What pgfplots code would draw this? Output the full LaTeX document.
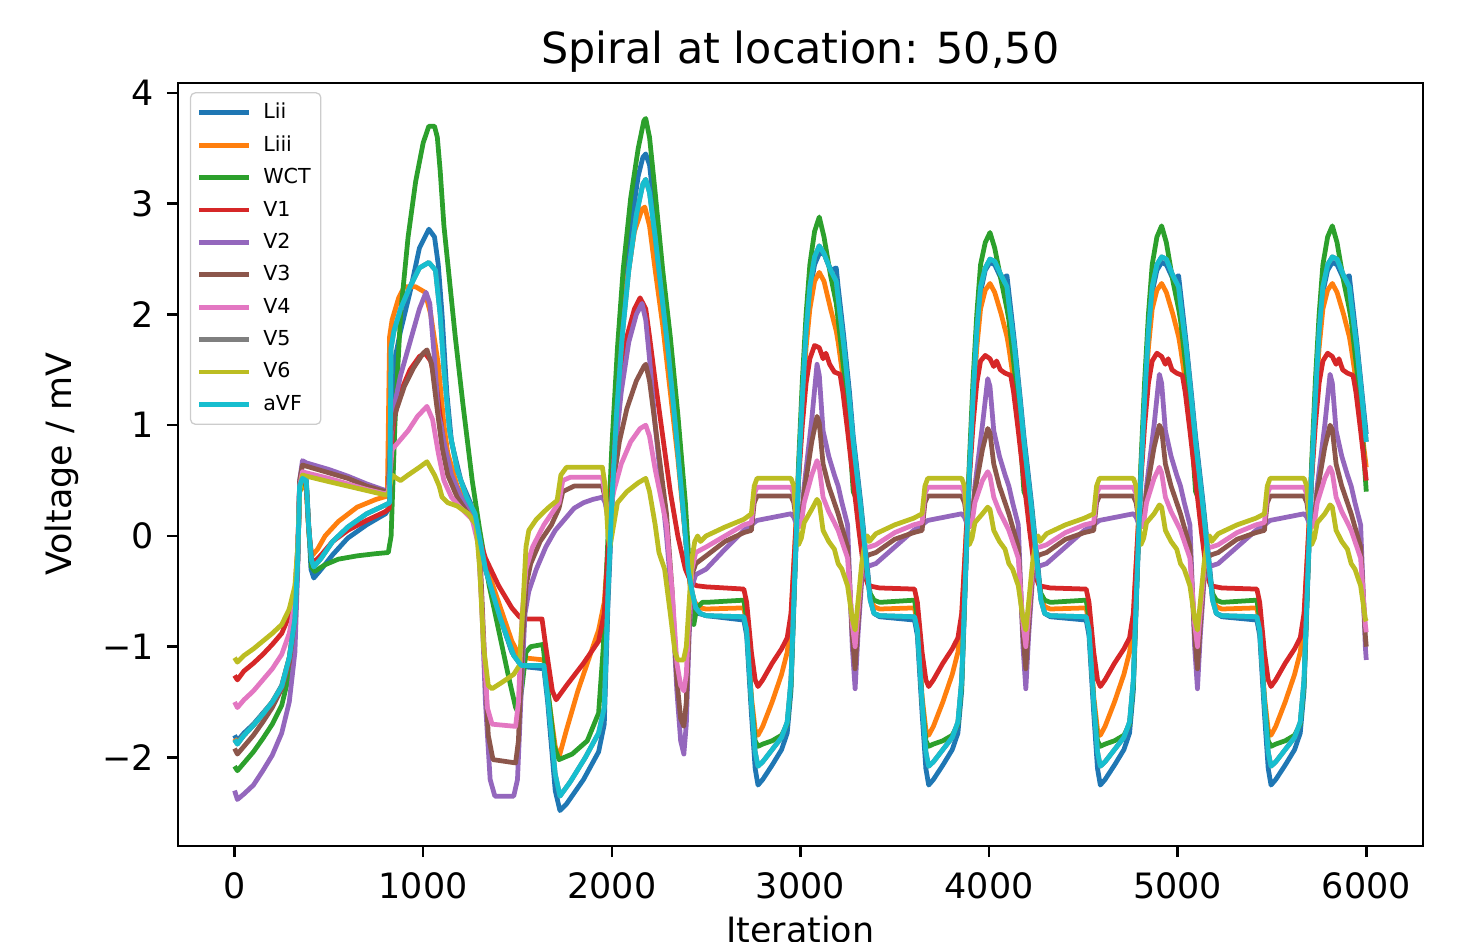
\documentclass[border=0pt]{standalone}
\usepackage{fontspec}
\setmainfont{DejaVu Sans}
\usepackage{pgfplots}
\pgfplotsset{compat=1.18}
\definecolor{c0}{HTML}{1F77B4}
\definecolor{c1}{HTML}{FF7F0E}
\definecolor{c2}{HTML}{2CA02C}
\definecolor{c3}{HTML}{D62728}
\definecolor{c4}{HTML}{9467BD}
\definecolor{c5}{HTML}{8C564B}
\definecolor{c6}{HTML}{E377C2}
\definecolor{c7}{HTML}{7F7F7F}
\definecolor{c8}{HTML}{BCBD22}
\definecolor{c9}{HTML}{17BECF}
\begin{document}
\begin{tikzpicture}
\begin{axis}[
  scale only axis, width=392.1pt, height=240.3pt,
  xmin=-300, xmax=6300, ymin=-2.80, ymax=4.09,
  axis line style={line width=0.8pt},
  tick style={black, line width=0.8pt}, tick align=outside, major tick length=3.5pt,
  xtick pos=bottom, ytick pos=left,
  xtick={0,1000,2000,3000,4000,5000,6000},
  xticklabels={0,1000,2000,3000,4000,5000,6000},
  ytick={-2,-1,0,1,2,3,4},
  yticklabels={−2,−1,0,1,2,3,4},
  ticklabel style={font=\fontsize{11}{13}\selectfont},
  xticklabel style={yshift=-1.2pt},
  yticklabel style={xshift=-0.5pt},
  title={Spiral at location: 50,50},
  every axis title/.style={at={(axis description cs:0.5,1)}, anchor=base, yshift=6.1pt, font=\fontsize{13.5}{16}\selectfont},
  xlabel={Iteration},
  every axis x label/.style={at={(axis description cs:0.5,0)}, anchor=base, yshift=-30.5pt, font=\fontsize{11}{13}\selectfont},
  ylabel={Voltage / mV},
  every axis y label/.style={at={(axis description cs:-0.093,0.5)}, anchor=center, rotate=90, font=\fontsize{11}{13}\selectfont},
  every axis plot/.append style={line width=1.5pt, line join=round},
  legend cell align=left,
  legend style={at={(axis description cs:0.0096,0.988)}, anchor=north west,
    draw=black!20, rounded corners=1.5pt, fill=white, fill opacity=0.8, text opacity=1,
    font=\fontsize{6.5}{7.8}\selectfont, row sep=1.6pt, column sep=2.5pt, inner xsep=2pt, inner ysep=2pt,
    nodes={inner sep=1.2pt, text height=5pt, text depth=1.2pt}},
  legend image code/.code={\draw[#1] (0pt,0pt) -- (15.7pt,0pt);},
]
% Lii
\addplot[c0] coordinates {(0,-1.80) (15,-1.85) (50,-1.78) (100,-1.70) (150,-1.60) (200,-1.50) (250,-1.35) (290,-1.1) (320,-0.75) (335,-0.2) (345,0.45) (360,0.55) (380,0.52) (390,0.2) (405,-0.3) (420,-0.38) (460,-0.3) (520,-0.17) (600,-0.02) (700,0.1) (800,0.2) (820,0.25) (835,1.2) (850,1.6) (880,1.85) (930,2.2) (980,2.6) (1030,2.77) (1060,2.7) (1080,2.45) (1100,2.0) (1125,1.3) (1150,0.85) (1200,0.5) (1250,0.3) (1275,0.15) (1330,-0.3) (1400,-0.7) (1470,-1.05) (1510,-1.15) (1530,-1.18) (1640,-1.2) (1660,-1.5) (1700,-2.3) (1725,-2.48) (1760,-2.42) (1850,-2.2) (1930,-1.95) (1960,-1.7) (1980,-0.6) (2000,0.2) (2020,1.0) (2050,1.8) (2080,2.4) (2110,2.9) (2140,3.25) (2165,3.42) (2180,3.45)
(2200,3.35) (2230,2.9) (2260,2.4) (2300,1.75) (2340,1.0) (2380,0.2) (2405,-0.3) (2425,-0.55) (2440,-0.62) (2460,-0.7) (2500,-0.72)
(2700,-0.76) (2715,-0.9) (2740,-1.6) (2760,-2.1) (2775,-2.25) (2800,-2.2) (2850,-2.07) (2900,-1.93) (2930,-1.78) (2950,-1.4) (2970,-0.4) (2990,0.5) (3010,1.2) (3030,1.8) (3050,2.2) (3075,2.45) (3100,2.55)
(3125,2.55) (3160,2.4) (3190,2.42) (3200,2.25) (3230,1.8) (3260,1.3) (3280,0.9) (3300,0.6) (3320,0.3) (3350,-0.2) (3370,-0.55) (3390,-0.7) (3420,-0.73)
(3605,-0.76) (3620,-0.9) (3645,-1.6) (3665,-2.1) (3680,-2.25) (3705,-2.2) (3755,-2.07) (3805,-1.93) (3835,-1.78) (3855,-1.4) (3875,-0.4) (3895,0.5) (3915,1.2) (3935,1.8) (3955,2.2) (3980,2.4) (4005,2.47)
(4030,2.45) (4065,2.32) (4095,2.35) (4105,2.2) (4135,1.75) (4165,1.25) (4185,0.9) (4205,0.6) (4225,0.3) (4255,-0.2) (4275,-0.55) (4295,-0.7) (4325,-0.73)
(4515,-0.76) (4530,-0.9) (4555,-1.6) (4575,-2.1) (4590,-2.25) (4615,-2.2) (4665,-2.07) (4715,-1.93) (4745,-1.78) (4765,-1.4) (4785,-0.4) (4805,0.5) (4825,1.2) (4845,1.8) (4865,2.2) (4890,2.4) (4915,2.47)
(4940,2.45) (4975,2.32) (5005,2.35) (5015,2.2) (5045,1.75) (5075,1.25) (5095,0.9) (5115,0.6) (5135,0.3) (5165,-0.2) (5185,-0.55) (5205,-0.7) (5235,-0.73)
(5420,-0.76) (5435,-0.9) (5460,-1.6) (5480,-2.1) (5495,-2.25) (5520,-2.2) (5570,-2.07) (5620,-1.93) (5650,-1.78) (5670,-1.4) (5690,-0.4) (5710,0.5) (5730,1.2) (5750,1.8) (5770,2.2) (5795,2.4) (5820,2.47)
(5845,2.45) (5880,2.32) (5910,2.35) (5920,2.2) (5950,1.75) (5980,1.25) (6000,0.92)};
\addlegendentry{Lii}
% Liii
\addplot[c1] coordinates {(0,-1.83) (15,-1.87) (50,-1.8) (100,-1.71) (150,-1.61) (200,-1.5) (250,-1.36) (290,-1.1) (320,-0.75) (335,-0.2) (345,0.4) (360,0.45) (380,0.42) (395,0.0) (410,-0.18) (440,-0.12) (480,0.0) (550,0.13) (650,0.26) (750,0.33) (810,0.36) (822,1.8) (835,1.95) (870,2.15) (900,2.25) (960,2.25) (1010,2.2) (1040,2.0) (1080,1.55) (1110,1.0) (1130,0.75) (1180,0.45) (1230,0.28) (1270,0.18) (1330,-0.25) (1400,-0.6) (1470,-0.95) (1510,-1.08) (1530,-1.1) (1640,-1.12) (1660,-1.4) (1700,-1.9) (1720,-2.0) (1760,-1.75) (1820,-1.4) (1880,-1.1) (1930,-0.85) (1960,-0.6) (1985,0.0) (2010,0.9) (2040,1.6) (2080,2.3) (2120,2.75) (2160,2.95) (2175,2.97)
(2200,2.8) (2230,2.4) (2270,1.9) (2310,1.3) (2350,0.7) (2390,0.0) (2415,-0.45) (2440,-0.6) (2470,-0.65) (2500,-0.66)
(2700,-0.65) (2715,-0.8) (2740,-1.45) (2760,-1.75) (2775,-1.8) (2800,-1.72) (2850,-1.5) (2900,-1.25) (2930,-1.05) (2950,-0.75) (2970,-0.1) (2990,0.6) (3010,1.2) (3030,1.7) (3050,2.05) (3075,2.3) (3100,2.38)
(3125,2.3) (3160,2.05) (3190,1.85) (3200,1.75) (3230,1.38) (3260,0.92) (3280,0.6) (3300,0.35) (3320,0.1) (3350,-0.3) (3370,-0.55) (3390,-0.64) (3420,-0.66)
(3605,-0.65) (3620,-0.8) (3645,-1.45) (3665,-1.75) (3680,-1.8) (3705,-1.72) (3755,-1.5) (3805,-1.25) (3835,-1.05) (3855,-0.75) (3875,-0.1) (3895,0.6) (3915,1.2) (3935,1.7) (3955,2.05) (3980,2.22) (4005,2.28)
(4030,2.2) (4065,2.0) (4095,1.8) (4105,1.7) (4135,1.35) (4165,0.9) (4185,0.6) (4205,0.35) (4225,0.1) (4255,-0.3) (4275,-0.55) (4295,-0.64) (4325,-0.66)
(4515,-0.65) (4530,-0.8) (4555,-1.45) (4575,-1.75) (4590,-1.8) (4615,-1.72) (4665,-1.5) (4715,-1.25) (4745,-1.05) (4765,-0.75) (4785,-0.1) (4805,0.6) (4825,1.2) (4845,1.7) (4865,2.05) (4890,2.22) (4915,2.28)
(4940,2.2) (4975,2.0) (5005,1.8) (5015,1.7) (5045,1.35) (5075,0.9) (5095,0.6) (5115,0.35) (5135,0.1) (5165,-0.3) (5185,-0.55) (5205,-0.64) (5235,-0.66)
(5420,-0.65) (5435,-0.8) (5460,-1.45) (5480,-1.75) (5495,-1.8) (5520,-1.72) (5570,-1.5) (5620,-1.25) (5650,-1.05) (5670,-0.75) (5690,-0.1) (5710,0.6) (5730,1.2) (5750,1.7) (5770,2.05) (5795,2.22) (5820,2.28)
(5845,2.2) (5880,2.0) (5910,1.8) (5920,1.7) (5950,1.35) (5980,0.9) (6000,0.62)};
\addlegendentry{Liii}
% WCT
\addplot[c2] coordinates {(0,-2.08) (15,-2.12) (50,-2.05) (100,-1.95) (150,-1.83) (200,-1.7) (250,-1.53) (290,-1.25) (320,-0.85) (335,-0.2) (345,0.4) (360,0.5) (380,0.48) (392,0.1) (408,-0.28) (425,-0.32) (480,-0.26) (550,-0.21) (650,-0.18) (750,-0.16) (815,-0.15) (830,0.0) (850,1.0) (880,2.0) (920,2.7) (960,3.2) (1000,3.55) (1030,3.7) (1060,3.7) (1075,3.6) (1090,3.3) (1110,2.8) (1140,2.3) (1170,1.8) (1210,1.2) (1260,0.5) (1300,0.05) (1350,-0.45) (1400,-0.85) (1450,-1.25) (1490,-1.55) (1505,-1.6) (1525,-1.35) (1545,-1.05) (1570,-1.0) (1635,-0.98) (1655,-1.3) (1695,-1.9) (1720,-2.02) (1790,-1.97) (1870,-1.85) (1930,-1.6) (1955,-1.0) (1975,-0.2) (2000,0.8) (2030,1.7) (2060,2.4) (2100,3.05) (2140,3.5) (2170,3.75) (2180,3.77)
(2200,3.6) (2230,3.1) (2270,2.4) (2310,1.8) (2350,1.1) (2390,0.3) (2415,-0.4) (2435,-0.8) (2450,-0.65) (2480,-0.6) (2500,-0.6)
(2700,-0.58) (2715,-0.75) (2740,-1.5) (2760,-1.85) (2775,-1.9) (2800,-1.88) (2850,-1.85) (2900,-1.8) (2930,-1.7) (2950,-1.35) (2970,-0.35) (2990,0.65) (3010,1.4) (3030,2.0) (3050,2.45) (3075,2.75) (3100,2.88)
(3125,2.7) (3160,2.35) (3190,2.1) (3200,1.95) (3230,1.5) (3260,0.9) (3280,0.4) (3300,0.32) (3320,0.25) (3350,-0.3) (3370,-0.52) (3390,-0.58) (3420,-0.6)
(3605,-0.58) (3620,-0.75) (3645,-1.5) (3665,-1.85) (3680,-1.9) (3705,-1.88) (3755,-1.85) (3805,-1.8) (3835,-1.7) (3855,-1.35) (3875,-0.35) (3895,0.65) (3915,1.4) (3935,2.0) (3955,2.45) (3980,2.65) (4005,2.74)
(4030,2.6) (4065,2.3) (4095,2.05) (4105,1.95) (4135,1.5) (4165,0.9) (4185,0.4) (4205,0.32) (4225,0.25) (4255,-0.3) (4275,-0.52) (4295,-0.58) (4325,-0.6)
(4515,-0.58) (4530,-0.75) (4555,-1.5) (4575,-1.85) (4590,-1.9) (4615,-1.88) (4665,-1.85) (4715,-1.8) (4745,-1.7) (4765,-1.35) (4785,-0.35) (4805,0.65) (4825,1.4) (4845,2.0) (4865,2.45) (4890,2.7) (4915,2.8)
(4940,2.65) (4975,2.3) (5005,2.05) (5015,1.95) (5045,1.5) (5075,0.9) (5095,0.4) (5115,0.32) (5135,0.25) (5165,-0.3) (5185,-0.52) (5205,-0.58) (5235,-0.6)
(5420,-0.58) (5435,-0.75) (5460,-1.5) (5480,-1.85) (5495,-1.9) (5520,-1.88) (5570,-1.85) (5620,-1.8) (5650,-1.7) (5670,-1.35) (5690,-0.35) (5710,0.65) (5730,1.4) (5750,2.0) (5770,2.45) (5795,2.7) (5820,2.8)
(5845,2.65) (5880,2.3) (5910,2.05) (5920,1.95) (5950,1.5) (5980,0.9) (6000,0.4)};
\addlegendentry{WCT}
% V1
\addplot[c3] coordinates {(0,-1.26) (15,-1.3) (50,-1.22) (100,-1.15) (150,-1.07) (200,-0.98) (250,-0.88) (290,-0.72) (320,-0.5) (335,-0.1) (345,0.45) (360,0.5) (380,0.47) (392,0.1) (408,-0.2) (420,-0.24) (460,-0.17) (520,-0.05) (600,0.05) (700,0.14) (800,0.22) (820,0.25) (835,0.9) (850,1.1) (880,1.3) (930,1.5) (980,1.62) (1010,1.65) (1040,1.58) (1070,1.35) (1100,0.95) (1130,0.6) (1170,0.4) (1230,0.25) (1275,0.1) (1330,-0.2) (1400,-0.45) (1470,-0.65) (1510,-0.73) (1530,-0.75) (1630,-0.75) (1650,-1.0) (1685,-1.4) (1705,-1.48) (1760,-1.35) (1850,-1.15) (1930,-0.95) (1960,-0.7) (1985,0.0) (2010,0.7) (2040,1.3) (2080,1.8) (2120,2.05) (2150,2.15)
(2180,2.05) (2200,1.8) (2230,1.4) (2270,0.9) (2310,0.4) (2350,0.0) (2390,-0.3) (2420,-0.42) (2450,-0.45) (2500,-0.46)
(2700,-0.48) (2715,-0.6) (2740,-1.05) (2760,-1.3) (2775,-1.36) (2800,-1.3) (2850,-1.15) (2900,-1.02) (2930,-0.92) (2950,-0.7) (2970,-0.1) (2990,0.5) (3010,1.0) (3030,1.38) (3050,1.6) (3075,1.72) (3100,1.7)
(3120,1.6) (3135,1.65) (3155,1.55) (3180,1.48) (3210,1.46) (3225,1.3) (3250,0.95) (3280,0.5) (3310,0.05) (3340,-0.35) (3360,-0.45) (3420,-0.47)
(3605,-0.48) (3620,-0.6) (3645,-1.05) (3665,-1.3) (3680,-1.36) (3705,-1.3) (3755,-1.15) (3805,-1.02) (3835,-0.92) (3855,-0.7) (3875,-0.1) (3895,0.5) (3915,1.0) (3935,1.38) (3955,1.58) (3980,1.63) (4005,1.6)
(4025,1.53) (4040,1.58) (4060,1.5) (4085,1.47) (4115,1.45) (4130,1.3) (4155,0.95) (4185,0.5) (4215,0.05) (4245,-0.35) (4265,-0.45) (4325,-0.47)
(4515,-0.48) (4530,-0.6) (4555,-1.05) (4575,-1.3) (4590,-1.36) (4615,-1.3) (4665,-1.15) (4715,-1.02) (4745,-0.92) (4765,-0.7) (4785,-0.1) (4805,0.5) (4825,1.0) (4845,1.38) (4865,1.58) (4890,1.65) (4915,1.62)
(4935,1.55) (4950,1.6) (4970,1.5) (4995,1.47) (5025,1.45) (5040,1.3) (5065,0.95) (5095,0.5) (5125,0.05) (5155,-0.35) (5175,-0.45) (5235,-0.47)
(5420,-0.48) (5435,-0.6) (5460,-1.05) (5480,-1.3) (5495,-1.36) (5520,-1.3) (5570,-1.15) (5620,-1.02) (5650,-0.92) (5670,-0.7) (5690,-0.1) (5710,0.5) (5730,1.0) (5750,1.38) (5770,1.58) (5795,1.65) (5820,1.62)
(5840,1.55) (5855,1.6) (5875,1.5) (5900,1.47) (5930,1.45) (5945,1.3) (5970,0.95) (6000,0.5)};
\addlegendentry{V1}
% V2
\addplot[c4] coordinates {(0,-2.30) (15,-2.38) (50,-2.33) (100,-2.25) (150,-2.12) (200,-1.98) (250,-1.78) (290,-1.5) (320,-1.05) (335,-0.3) (345,0.5) (360,0.68) (380,0.66) (500,0.6) (600,0.54) (700,0.47) (800,0.41) (815,0.42) (830,0.9) (850,1.2) (880,1.45) (930,1.75) (980,2.05) (1015,2.2) (1035,2.1) (1060,1.6) (1080,1.1) (1095,1.0) (1110,0.85) (1150,0.55) (1200,0.35) (1250,0.22) (1290,0.0) (1310,-0.6) (1330,-1.5) (1355,-2.2) (1380,-2.35) (1480,-2.35) (1500,-2.2) (1520,-1.4) (1540,-0.7) (1560,-0.5) (1600,-0.3) (1650,-0.1) (1700,0.05) (1750,0.15) (1800,0.25) (1850,0.3) (1900,0.33) (1950,0.35) (1965,0.3) (1980,0.15) (1995,0.2) (2020,0.8) (2050,1.3) (2090,1.75) (2130,2.0) (2160,2.1)
(2180,1.95) (2200,1.6) (2230,1.0) (2260,0.5) (2290,0.0) (2320,-0.6) (2345,-1.4) (2365,-1.85) (2382,-1.97) (2395,-1.7) (2410,-0.9) (2425,-0.45) (2445,-0.35) (2500,-0.3) (2600,-0.12) (2700,0.05)
(2740,0.1) (2755,0.12) (2770,0.14) (2950,0.2) (2965,0.17) (2980,0.1) (2990,0.08) (3005,0.15) (3020,0.45) (3060,1.05) (3088,1.55) (3100,1.45)
(3120,0.95) (3150,0.72) (3180,0.55) (3200,0.45) (3220,0.3) (3250,0.1) (3275,-1.0) (3290,-1.38) (3305,-0.9) (3325,-0.4) (3345,-0.3) (3355,-0.28) (3365,-0.27) (3400,-0.25) (3500,-0.1) (3600,0.05)
(3645,0.1) (3660,0.12) (3675,0.14) (3855,0.2) (3870,0.17) (3885,0.1) (3895,0.08) (3910,0.15) (3925,0.45) (3965,1.0) (3993,1.42) (4005,1.35)
(4025,0.95) (4055,0.72) (4085,0.55) (4105,0.45) (4125,0.3) (4155,0.1) (4180,-1.0) (4195,-1.38) (4210,-0.9) (4230,-0.4) (4250,-0.3) (4260,-0.28) (4270,-0.27) (4305,-0.25) (4405,-0.1) (4505,0.05)
(4555,0.1) (4570,0.12) (4585,0.14) (4765,0.2) (4780,0.17) (4795,0.1) (4805,0.08) (4820,0.15) (4835,0.45) (4875,1.0) (4903,1.46) (4915,1.38)
(4935,0.95) (4965,0.72) (4995,0.55) (5015,0.45) (5035,0.3) (5065,0.1) (5090,-1.0) (5105,-1.38) (5120,-0.9) (5140,-0.4) (5160,-0.3) (5170,-0.28) (5180,-0.27) (5215,-0.25) (5315,-0.1) (5415,0.05)
(5460,0.1) (5475,0.12) (5490,0.14) (5670,0.2) (5685,0.17) (5700,0.1) (5710,0.08) (5725,0.15) (5740,0.45) (5780,1.0) (5808,1.46) (5820,1.38)
(5840,0.95) (5870,0.72) (5900,0.55) (5920,0.45) (5940,0.3) (5970,0.1) (5995,-1.0) (6000,-1.12)};
\addlegendentry{V2}
% V3
\addplot[c5] coordinates {(0,-1.92) (15,-1.97) (50,-1.9) (100,-1.8) (150,-1.68) (200,-1.55) (250,-1.38) (290,-1.15) (320,-0.75) (335,-0.2) (345,0.5) (360,0.64) (380,0.63) (500,0.57) (600,0.52) (700,0.45) (800,0.4) (815,0.42) (830,0.95) (860,1.15) (900,1.35) (950,1.52) (1000,1.65) (1020,1.68) (1045,1.55) (1070,1.2) (1100,0.8) (1130,0.55) (1180,0.35) (1230,0.22) (1270,0.12) (1300,-0.1) (1320,-0.9) (1345,-1.8) (1370,-2.02) (1490,-2.05) (1505,-1.85) (1525,-1.0) (1545,-0.45) (1570,-0.25) (1620,-0.05) (1680,0.1) (1720,0.25) (1740,0.4) (1800,0.45) (1950,0.45) (1970,0.3) (1990,0.2) (2010,0.5) (2040,0.85) (2080,1.15) (2130,1.4) (2170,1.53) (2180,1.55)
(2200,1.4) (2230,1.0) (2260,0.6) (2290,0.2) (2320,-0.5) (2345,-1.3) (2365,-1.65) (2382,-1.72) (2395,-1.5) (2410,-0.8) (2425,-0.35) (2445,-0.25) (2500,-0.18) (2600,-0.05) (2700,0.03)
(2740,0.05) (2755,0.3) (2770,0.36) (2950,0.36) (2965,0.3) (2980,0.12) (2990,0.08) (3005,0.15) (3020,0.4) (3060,0.85) (3088,1.08) (3100,1.02)
(3120,0.65) (3150,0.45) (3180,0.3) (3200,0.2) (3220,0.08) (3250,-0.1) (3275,-0.9) (3290,-1.2) (3305,-0.8) (3325,-0.35) (3345,-0.2) (3355,-0.18) (3365,-0.17) (3400,-0.15) (3500,-0.03) (3600,0.03)
(3645,0.05) (3660,0.3) (3675,0.36) (3855,0.36) (3870,0.3) (3885,0.12) (3895,0.08) (3910,0.15) (3925,0.4) (3965,0.78) (3993,0.97) (4005,0.93)
(4025,0.65) (4055,0.45) (4085,0.3) (4105,0.2) (4125,0.08) (4155,-0.1) (4180,-0.9) (4195,-1.2) (4210,-0.8) (4230,-0.35) (4250,-0.2) (4260,-0.18) (4270,-0.17) (4305,-0.15) (4405,-0.03) (4505,0.03)
(4555,0.05) (4570,0.3) (4585,0.36) (4765,0.36) (4780,0.3) (4795,0.12) (4805,0.08) (4820,0.15) (4835,0.4) (4875,0.8) (4903,1.0) (4915,0.96)
(4935,0.65) (4965,0.45) (4995,0.3) (5015,0.2) (5035,0.08) (5065,-0.1) (5090,-0.9) (5105,-1.2) (5120,-0.8) (5140,-0.35) (5160,-0.2) (5170,-0.18) (5180,-0.17) (5215,-0.15) (5315,-0.03) (5415,0.03)
(5460,0.05) (5475,0.3) (5490,0.36) (5670,0.36) (5685,0.3) (5700,0.12) (5710,0.08) (5725,0.15) (5740,0.4) (5780,0.8) (5808,1.0) (5820,0.96)
(5840,0.65) (5870,0.45) (5900,0.3) (5920,0.2) (5940,0.08) (5970,-0.1) (5995,-0.9) (6000,-1.0)};
\addlegendentry{V3}
% V4
\addplot[c6] coordinates {(0,-1.50) (15,-1.55) (50,-1.48) (100,-1.4) (150,-1.3) (200,-1.2) (250,-1.07) (290,-0.88) (320,-0.6) (335,-0.15) (345,0.45) (360,0.58) (380,0.57) (500,0.52) (600,0.47) (700,0.42) (800,0.38) (815,0.4) (835,0.78) (870,0.85) (920,0.95) (970,1.08) (1020,1.17) (1050,1.05) (1080,0.75) (1110,0.5) (1150,0.35) (1200,0.25) (1260,0.15) (1295,-0.1) (1315,-0.8) (1340,-1.55) (1365,-1.7) (1490,-1.72) (1505,-1.5) (1525,-0.7) (1545,-0.3) (1580,-0.1) (1640,0.1) (1700,0.25) (1720,0.3) (1740,0.5) (1780,0.53) (1950,0.53) (1970,0.3) (1985,0.15) (2010,0.4) (2050,0.65) (2100,0.85) (2150,0.97) (2180,1.0)
(2200,0.9) (2230,0.6) (2260,0.35) (2290,0.1) (2320,-0.5) (2345,-1.15) (2365,-1.35) (2382,-1.4) (2395,-1.25) (2410,-0.7) (2425,-0.3) (2445,-0.15) (2500,-0.1) (2600,0.0) (2700,0.1)
(2740,0.12) (2755,0.38) (2770,0.44) (2950,0.44) (2965,0.38) (2980,0.15) (2990,0.08) (3005,0.12) (3020,0.3) (3060,0.55) (3088,0.68) (3100,0.62)
(3120,0.35) (3150,0.22) (3180,0.12) (3200,0.05) (3220,-0.05) (3250,-0.2) (3275,-0.8) (3290,-1.0) (3305,-0.7) (3325,-0.3) (3345,-0.12) (3355,-0.1) (3365,-0.1) (3400,-0.08) (3500,0.03) (3600,0.1)
(3645,0.12) (3660,0.38) (3675,0.44) (3855,0.44) (3870,0.38) (3885,0.15) (3895,0.08) (3910,0.12) (3925,0.3) (3965,0.5) (3993,0.58) (4005,0.54)
(4025,0.35) (4055,0.22) (4085,0.12) (4105,0.05) (4125,-0.05) (4155,-0.2) (4180,-0.8) (4195,-1.0) (4210,-0.7) (4230,-0.3) (4250,-0.12) (4260,-0.1) (4270,-0.1) (4305,-0.08) (4405,0.03) (4505,0.1)
(4555,0.12) (4570,0.38) (4585,0.44) (4765,0.44) (4780,0.38) (4795,0.15) (4805,0.08) (4820,0.12) (4835,0.3) (4875,0.52) (4903,0.62) (4915,0.57)
(4935,0.35) (4965,0.22) (4995,0.12) (5015,0.05) (5035,-0.05) (5065,-0.2) (5090,-0.8) (5105,-1.0) (5120,-0.7) (5140,-0.3) (5160,-0.12) (5170,-0.1) (5180,-0.1) (5215,-0.08) (5315,0.03) (5415,0.1)
(5460,0.12) (5475,0.38) (5490,0.44) (5670,0.44) (5685,0.38) (5700,0.15) (5710,0.08) (5725,0.12) (5740,0.3) (5780,0.52) (5808,0.62) (5820,0.57)
(5840,0.35) (5870,0.22) (5900,0.12) (5920,0.05) (5940,-0.05) (5970,-0.2) (5995,-0.8) (6000,-0.87)};
\addlegendentry{V4}
% V5
\addplot[c7] coordinates {(0,-1.84) (15,-1.88) (50,-1.8) (100,-1.71) (150,-1.61) (200,-1.5) (250,-1.36) (290,-1.1) (320,-0.75) (335,-0.2) (345,0.45) (360,0.52) (380,0.5) (392,0.1) (408,-0.22) (420,-0.28) (460,-0.2) (520,-0.05) (600,0.08) (700,0.2) (800,0.28) (822,0.3) (830,1.7) (845,1.85) (880,2.05) (930,2.25) (980,2.42) (1030,2.47) (1065,2.4) (1090,2.0) (1110,1.5) (1140,0.95) (1180,0.6) (1230,0.35) (1275,0.2) (1330,-0.3) (1410,-0.75) (1480,-1.08) (1520,-1.17) (1640,-1.17) (1660,-1.45) (1700,-2.15) (1725,-2.35) (1780,-2.22) (1860,-2.0) (1930,-1.78) (1960,-1.55) (1980,-0.5) (2000,0.3) (2025,1.1) (2055,1.8) (2090,2.4) (2130,2.9) (2165,3.18) (2180,3.22)
(2200,3.1) (2230,2.7) (2260,2.25) (2300,1.65) (2340,0.95) (2380,0.2) (2405,-0.3) (2425,-0.5) (2445,-0.65) (2470,-0.7) (2500,-0.72)
(2700,-0.73) (2715,-0.85) (2740,-1.5) (2760,-1.95) (2775,-2.08) (2800,-2.04) (2850,-1.93) (2900,-1.82) (2930,-1.68) (2950,-1.3) (2970,-0.35) (2990,0.55) (3010,1.25) (3030,1.85) (3050,2.25) (3075,2.52) (3100,2.62)
(3125,2.55) (3160,2.4) (3190,2.3) (3200,2.15) (3230,1.72) (3260,1.22) (3280,0.85) (3300,0.55) (3320,0.25) (3350,-0.25) (3370,-0.58) (3390,-0.7) (3420,-0.72)
(3605,-0.73) (3620,-0.85) (3645,-1.5) (3665,-1.95) (3680,-2.08) (3705,-2.04) (3755,-1.93) (3805,-1.82) (3835,-1.68) (3855,-1.3) (3875,-0.35) (3895,0.55) (3915,1.25) (3935,1.85) (3955,2.25) (3980,2.42) (4005,2.5)
(4030,2.48) (4065,2.35) (4095,2.25) (4105,2.1) (4135,1.7) (4165,1.2) (4185,0.85) (4205,0.55) (4225,0.25) (4255,-0.25) (4275,-0.58) (4295,-0.7) (4325,-0.72)
(4515,-0.73) (4530,-0.85) (4555,-1.5) (4575,-1.95) (4590,-2.08) (4615,-2.04) (4665,-1.93) (4715,-1.82) (4745,-1.68) (4765,-1.3) (4785,-0.35) (4805,0.55) (4825,1.25) (4845,1.85) (4865,2.25) (4890,2.45) (4915,2.52)
(4940,2.5) (4975,2.35) (5005,2.25) (5015,2.1) (5045,1.7) (5075,1.2) (5095,0.85) (5115,0.55) (5135,0.25) (5165,-0.25) (5185,-0.58) (5205,-0.7) (5235,-0.72)
(5420,-0.73) (5435,-0.85) (5460,-1.5) (5480,-1.95) (5495,-2.08) (5520,-2.04) (5570,-1.93) (5620,-1.82) (5650,-1.68) (5670,-1.3) (5690,-0.35) (5710,0.55) (5730,1.25) (5750,1.85) (5770,2.25) (5795,2.45) (5820,2.52)
(5845,2.5) (5880,2.35) (5910,2.25) (5920,2.1) (5950,1.7) (5980,1.2) (6000,0.85)};
\addlegendentry{V5}
% V6
\addplot[c8] coordinates {(0,-1.10) (15,-1.14) (50,-1.08) (100,-1.02) (150,-0.95) (200,-0.88) (250,-0.8) (290,-0.66) (320,-0.45) (335,-0.1) (345,0.4) (360,0.55) (380,0.54) (500,0.49) (600,0.45) (700,0.41) (800,0.37) (815,0.38) (835,0.55) (860,0.52) (880,0.5) (920,0.55) (980,0.62) (1020,0.67) (1060,0.55) (1085,0.45) (1100,0.35) (1130,0.3) (1180,0.27) (1240,0.2) (1280,0.1) (1300,-0.3) (1320,-1.0) (1345,-1.35) (1365,-1.38) (1420,-1.32) (1480,-1.25) (1510,-1.17) (1530,-0.6) (1545,-0.1) (1560,0.05) (1600,0.15) (1660,0.25) (1710,0.32) (1730,0.55) (1760,0.62) (1950,0.62) (1965,0.45) (1980,0.0) (1990,-0.1) (2005,0.05) (2030,0.3) (2080,0.4) (2140,0.48) (2180,0.52)
(2200,0.4) (2230,0.1) (2250,-0.15) (2280,-0.3) (2310,-0.7) (2335,-1.05) (2350,-1.12) (2380,-1.12) (2395,-1.0) (2410,-0.6) (2425,-0.2) (2440,-0.05) (2455,0.0) (2470,-0.05) (2500,0.0) (2600,0.08) (2700,0.15)
(2740,0.2) (2755,0.45) (2770,0.52) (2950,0.52) (2965,0.45) (2980,0.1) (2990,-0.08) (3005,-0.02) (3020,0.12) (3060,0.24) (3088,0.33) (3100,0.3)
(3120,0.05) (3150,-0.05) (3180,-0.12) (3200,-0.25) (3220,-0.3) (3250,-0.45) (3275,-0.75) (3290,-0.85) (3305,-0.6) (3325,-0.25) (3345,-0.02) (3355,0.0) (3365,-0.05) (3400,0.02) (3500,0.1) (3600,0.16)
(3645,0.2) (3660,0.45) (3675,0.52) (3855,0.52) (3870,0.45) (3885,0.1) (3895,-0.08) (3910,-0.02) (3925,0.12) (3965,0.2) (3993,0.26) (4005,0.24)
(4025,0.05) (4055,-0.05) (4085,-0.12) (4105,-0.25) (4125,-0.3) (4155,-0.45) (4180,-0.75) (4195,-0.85) (4210,-0.6) (4230,-0.25) (4250,-0.02) (4260,0.0) (4270,-0.05) (4305,0.02) (4405,0.1) (4505,0.16)
(4555,0.2) (4570,0.45) (4585,0.52) (4765,0.52) (4780,0.45) (4795,0.1) (4805,-0.08) (4820,-0.02) (4835,0.12) (4875,0.2) (4903,0.28) (4915,0.26)
(4935,0.05) (4965,-0.05) (4995,-0.12) (5015,-0.25) (5035,-0.3) (5065,-0.45) (5090,-0.75) (5105,-0.85) (5120,-0.6) (5140,-0.25) (5160,-0.02) (5170,0.0) (5180,-0.05) (5215,0.02) (5315,0.1) (5415,0.16)
(5460,0.2) (5475,0.45) (5490,0.52) (5670,0.52) (5685,0.45) (5700,0.1) (5710,-0.08) (5725,-0.02) (5740,0.12) (5780,0.2) (5808,0.28) (5820,0.26)
(5840,0.05) (5870,-0.05) (5900,-0.12) (5920,-0.25) (5940,-0.3) (5970,-0.45) (5995,-0.75) (6000,-0.77)};
\addlegendentry{V6}
% aVF
\addplot[c9] coordinates {(0,-1.84) (15,-1.88) (50,-1.8) (100,-1.71) (150,-1.61) (200,-1.5) (250,-1.36) (290,-1.1) (320,-0.75) (335,-0.2) (345,0.45) (360,0.52) (380,0.5) (392,0.1) (408,-0.22) (420,-0.28) (460,-0.2) (520,-0.05) (600,0.08) (700,0.2) (800,0.28) (822,0.3) (830,1.7) (845,1.85) (880,2.05) (930,2.25) (980,2.42) (1030,2.47) (1065,2.4) (1090,2.0) (1110,1.5) (1140,0.95) (1180,0.6) (1230,0.35) (1275,0.2) (1330,-0.3) (1410,-0.75) (1480,-1.08) (1520,-1.17) (1640,-1.17) (1660,-1.45) (1700,-2.15) (1725,-2.35) (1780,-2.22) (1860,-2.0) (1930,-1.78) (1960,-1.55) (1980,-0.5) (2000,0.3) (2025,1.1) (2055,1.8) (2090,2.4) (2130,2.9) (2165,3.18) (2180,3.22)
(2200,3.1) (2230,2.7) (2260,2.25) (2300,1.65) (2340,0.95) (2380,0.2) (2405,-0.3) (2425,-0.5) (2445,-0.65) (2470,-0.7) (2500,-0.72)
(2700,-0.73) (2715,-0.85) (2740,-1.5) (2760,-1.95) (2775,-2.08) (2800,-2.04) (2850,-1.93) (2900,-1.82) (2930,-1.68) (2950,-1.3) (2970,-0.35) (2990,0.55) (3010,1.25) (3030,1.85) (3050,2.25) (3075,2.52) (3100,2.62)
(3125,2.55) (3160,2.4) (3190,2.3) (3200,2.15) (3230,1.72) (3260,1.22) (3280,0.85) (3300,0.55) (3320,0.25) (3350,-0.25) (3370,-0.58) (3390,-0.7) (3420,-0.72)
(3605,-0.73) (3620,-0.85) (3645,-1.5) (3665,-1.95) (3680,-2.08) (3705,-2.04) (3755,-1.93) (3805,-1.82) (3835,-1.68) (3855,-1.3) (3875,-0.35) (3895,0.55) (3915,1.25) (3935,1.85) (3955,2.25) (3980,2.42) (4005,2.5)
(4030,2.48) (4065,2.35) (4095,2.25) (4105,2.1) (4135,1.7) (4165,1.2) (4185,0.85) (4205,0.55) (4225,0.25) (4255,-0.25) (4275,-0.58) (4295,-0.7) (4325,-0.72)
(4515,-0.73) (4530,-0.85) (4555,-1.5) (4575,-1.95) (4590,-2.08) (4615,-2.04) (4665,-1.93) (4715,-1.82) (4745,-1.68) (4765,-1.3) (4785,-0.35) (4805,0.55) (4825,1.25) (4845,1.85) (4865,2.25) (4890,2.45) (4915,2.52)
(4940,2.5) (4975,2.35) (5005,2.25) (5015,2.1) (5045,1.7) (5075,1.2) (5095,0.85) (5115,0.55) (5135,0.25) (5165,-0.25) (5185,-0.58) (5205,-0.7) (5235,-0.72)
(5420,-0.73) (5435,-0.85) (5460,-1.5) (5480,-1.95) (5495,-2.08) (5520,-2.04) (5570,-1.93) (5620,-1.82) (5650,-1.68) (5670,-1.3) (5690,-0.35) (5710,0.55) (5730,1.25) (5750,1.85) (5770,2.25) (5795,2.45) (5820,2.52)
(5845,2.5) (5880,2.35) (5910,2.25) (5920,2.1) (5950,1.7) (5980,1.2) (6000,0.85)};
\addlegendentry{aVF}
\coordinate (SW) at (rel axis cs:0,0);
\end{axis}
\pgfresetboundingbox
\useasboundingbox ([xshift=-56.06pt,yshift=-29.94pt]SW) rectangle ++(460.8pt,296.4pt);
\end{tikzpicture}
\end{document}
